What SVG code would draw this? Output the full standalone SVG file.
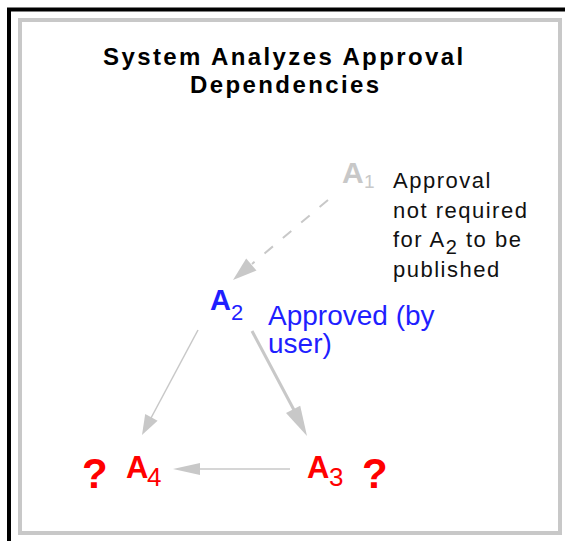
<svg xmlns="http://www.w3.org/2000/svg" width="565" height="541" viewBox="0 0 565 541">
  <style>
    .title { font-family: "Liberation Sans", Arial, sans-serif; font-weight: bold; font-size: 24px; letter-spacing: 2.4px; fill: #000; }
    .node { font-family: "Liberation Sans", Arial, sans-serif; font-weight: bold; }
    .sub { font-family: "Liberation Sans", Arial, sans-serif; font-weight: normal; }
    .note { font-family: "Liberation Sans", Arial, sans-serif; font-size: 22px; letter-spacing: 1.5px; fill: #111; }
    .blue { font-family: "Liberation Sans", Arial, sans-serif; font-size: 28px; fill: #1f1fff; }
    .gray { fill: #c8c8c8; }
    .red { fill: #ff0000; }
    .conn { stroke: #c8c8c8; fill: none; }
    .head { fill: #c8c8c8; stroke: none; }
  </style>
  <rect width="565" height="541" fill="#ffffff"/>
  <g id="frame">
    <path d="M9,541 V9.5 H565" fill="none" stroke="#000" stroke-width="4"/>
    <rect x="20" y="20" width="540" height="513" fill="#ffffff" stroke="#c8c8c8" stroke-width="4"/>
  </g>
  <g id="title">
    <text class="title" x="103" y="65">System Analyzes Approval</text>
    <text class="title" x="190" y="93">Dependencies</text>
  </g>
  <g id="connectors">
    <path class="conn" d="M328,200 L252,264" stroke-width="2" stroke-dasharray="11,13"/>
    <polygon class="head" points="233,280 256.5,270.6 246.2,258.4"/>
    <path class="conn" d="M198,330 L151,418" stroke-width="1.5"/>
    <polygon class="head" points="142,435 157.6,420.7 145.2,414.1"/>
    <path class="conn" d="M252,331 L294,410" stroke-width="3"/>
    <polygon class="head" points="307,436 300.2,405.7 286,413.1"/>
    <path class="conn" d="M290,469 L198,469" stroke-width="1.5"/>
    <polygon class="head" points="173,469 200,463 200,475"/>
  </g>
  <g id="node-a1">
    <text class="node gray" x="342" y="183" font-size="30">A</text>
    <text class="sub gray" x="364" y="188" font-size="19">1</text>
    <text class="note" x="393" y="188">Approval</text>
    <text class="note" x="393" y="217.5">not required</text>
    <text class="note" x="393" y="247">for A<tspan dy="7" font-size="20">2</tspan><tspan dy="-7"> to be</tspan></text>
    <text class="note" x="393" y="276.5">published</text>
  </g>
  <g id="node-a2">
    <text class="node" x="210" y="310" font-size="29" fill="#1f1fff">A</text>
    <text class="sub" x="231" y="320" font-size="22" fill="#1f1fff">2</text>
    <text class="blue" x="268" y="325">Approved (by</text>
    <text class="blue" x="268" y="353">user)</text>
  </g>
  <g id="node-a3">
    <text class="node red" x="307" y="478" font-size="31">A</text>
    <text class="sub red" x="329" y="486" font-size="26">3</text>
    <text class="node red" x="362" y="488" font-size="42">?</text>
  </g>
  <g id="node-a4">
    <text class="node red" x="82" y="488" font-size="42">?</text>
    <text class="node red" x="126" y="478" font-size="31">A</text>
    <text class="sub red" x="147" y="486" font-size="26">4</text>
  </g>
</svg>
